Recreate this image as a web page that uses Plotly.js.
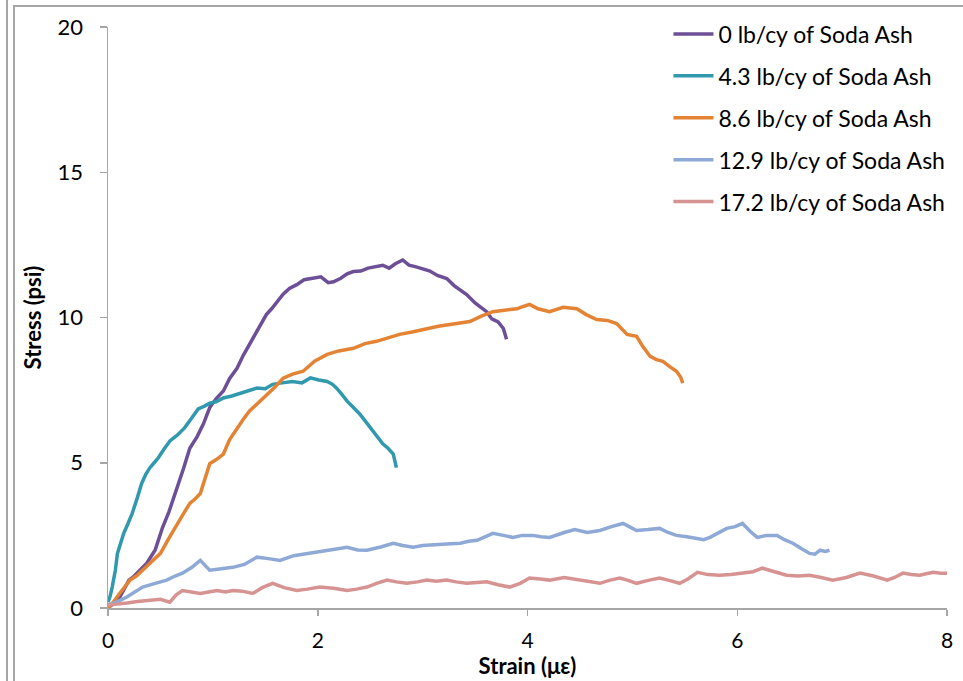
<!DOCTYPE html>
<html>
<head>
<meta charset="utf-8">
<script src="https://cdn.plot.ly/plotly-3.0.1.min.js"></script>
<style>
  html, body { margin: 0; padding: 0; background: #fff; }
  #wrap { position: relative; width: 963px; height: 681px; overflow: hidden; }
  #chart { position: absolute; left: 0; top: 0; width: 963px; height: 681px; }
  .b { position: absolute; background: #a6a6a6; }
</style>
</head>
<body>
<div id="wrap">
  <div id="chart"></div>
  <div class="b" style="left:6px; top:0; width:2px; height:681px;"></div>
  <div class="b" style="left:13px; top:5px; width:2px; height:676px;"></div>
  <div class="b" style="left:13px; top:5px; width:950px; height:2px;"></div>
</div>
<script>
// ---- data ----
const seriesNames = ["0 lb/cy of Soda Ash", "4.3 lb/cy of Soda Ash", "8.6 lb/cy of Soda Ash", "12.9 lb/cy of Soda Ash", "17.2 lb/cy of Soda Ash"];

const strain0 = [0,0.05,0.1,0.15,0.2,0.25,0.3,0.37,0.45,0.52,0.58,0.66,0.72,0.78,0.85,0.91,0.97,1.03,1.1,1.16,1.23,1.29,1.35,1.42,1.51,1.56,1.61,1.67,1.73,1.8,1.87,1.96,2.03,2.1,2.15,2.22,2.28,2.34,2.41,2.48,2.56,2.62,2.68,2.74,2.81,2.87,2.93,3.0,3.07,3.14,3.23,3.3,3.36,3.42,3.5,3.56,3.61,3.66,3.72,3.77,3.8];
const stress0 = [0,0.15,0.3,0.62,0.96,1.1,1.3,1.54,2.0,2.77,3.3,4.14,4.8,5.5,5.9,6.34,6.9,7.2,7.47,7.9,8.25,8.7,9.08,9.5,10.1,10.3,10.55,10.8,11.0,11.13,11.3,11.34,11.4,11.2,11.23,11.35,11.5,11.58,11.6,11.7,11.75,11.8,11.7,11.85,11.98,11.8,11.75,11.68,11.6,11.45,11.34,11.1,10.95,10.79,10.5,10.35,10.2,9.95,9.85,9.62,9.25];

const strain43 = [0,0.02,0.04,0.07,0.09,0.12,0.15,0.19,0.23,0.28,0.32,0.36,0.4,0.44,0.48,0.53,0.59,0.66,0.73,0.8,0.86,0.92,0.97,1.03,1.1,1.18,1.26,1.34,1.42,1.5,1.57,1.66,1.76,1.85,1.93,2.01,2.09,2.14,2.18,2.23,2.28,2.34,2.4,2.45,2.5,2.56,2.62,2.67,2.72,2.75];
const stress43 = [0.2,0.4,0.72,1.3,1.88,2.25,2.57,2.9,3.25,3.8,4.28,4.6,4.83,5.0,5.17,5.45,5.75,5.95,6.2,6.55,6.85,6.95,7.05,7.1,7.23,7.3,7.4,7.5,7.57,7.55,7.7,7.75,7.8,7.75,7.92,7.85,7.8,7.7,7.57,7.35,7.12,6.9,6.68,6.45,6.2,5.95,5.65,5.5,5.3,4.83];

const strain86 = [0,0.05,0.1,0.15,0.21,0.27,0.33,0.4,0.5,0.58,0.66,0.72,0.78,0.83,0.88,0.93,0.97,1.03,1.1,1.16,1.23,1.29,1.35,1.43,1.51,1.59,1.67,1.76,1.86,1.97,2.09,2.2,2.34,2.45,2.56,2.67,2.78,2.9,3.04,3.15,3.26,3.35,3.45,3.56,3.67,3.78,3.9,3.96,4.02,4.1,4.21,4.34,4.47,4.56,4.66,4.76,4.85,4.95,5.04,5.1,5.17,5.23,5.29,5.36,5.42,5.46,5.48];
const stress86 = [0,0.2,0.45,0.7,0.96,1.1,1.3,1.55,1.88,2.4,2.91,3.25,3.6,3.75,3.94,4.5,4.97,5.1,5.3,5.8,6.2,6.5,6.78,7.05,7.36,7.6,7.91,8.05,8.15,8.5,8.73,8.85,8.94,9.1,9.18,9.3,9.42,9.5,9.62,9.7,9.76,9.8,9.86,10.05,10.2,10.25,10.3,10.38,10.45,10.3,10.2,10.35,10.3,10.1,9.93,9.9,9.79,9.42,9.35,9.0,8.66,8.55,8.49,8.3,8.15,7.95,7.74];

const strain129 = [0,0.08,0.18,0.25,0.33,0.45,0.56,0.64,0.71,0.8,0.88,0.93,0.97,1.08,1.19,1.3,1.42,1.53,1.64,1.77,1.9,2.01,2.12,2.2,2.28,2.38,2.47,2.6,2.72,2.81,2.91,3.0,3.1,3.23,3.36,3.44,3.52,3.6,3.67,3.77,3.86,3.95,4.05,4.13,4.21,4.35,4.45,4.57,4.69,4.8,4.91,4.97,5.04,5.15,5.26,5.34,5.42,5.52,5.62,5.68,5.74,5.82,5.9,5.98,6.05,6.12,6.19,6.28,6.38,6.45,6.53,6.61,6.69,6.74,6.79,6.84,6.88];
const stress129 = [0.1,0.2,0.38,0.55,0.72,0.85,0.96,1.1,1.2,1.4,1.64,1.45,1.3,1.35,1.4,1.5,1.75,1.7,1.64,1.8,1.88,1.95,1.99,2.05,2.09,2.0,1.99,2.1,2.23,2.15,2.09,2.15,2.16,2.2,2.23,2.3,2.33,2.45,2.57,2.5,2.43,2.5,2.5,2.45,2.43,2.6,2.7,2.6,2.67,2.8,2.91,2.8,2.67,2.7,2.74,2.6,2.5,2.45,2.4,2.35,2.43,2.6,2.74,2.8,2.91,2.65,2.43,2.5,2.5,2.35,2.23,2.05,1.88,1.85,1.99,1.95,1.99];

const strain172 = [0,0.08,0.18,0.28,0.4,0.5,0.59,0.65,0.71,0.8,0.88,0.96,1.04,1.12,1.19,1.28,1.38,1.47,1.57,1.68,1.8,1.9,2.02,2.15,2.28,2.37,2.47,2.56,2.66,2.75,2.85,2.95,3.04,3.13,3.23,3.32,3.42,3.52,3.61,3.72,3.83,3.93,4.02,4.12,4.21,4.35,4.5,4.6,4.69,4.78,4.88,4.96,5.04,5.15,5.26,5.35,5.45,5.53,5.62,5.72,5.83,5.94,6.05,6.15,6.24,6.35,6.47,6.58,6.69,6.8,6.91,7.04,7.17,7.3,7.43,7.5,7.58,7.66,7.74,7.8,7.87,7.94,8.0];
const stress172 = [0.1,0.12,0.17,0.22,0.27,0.3,0.2,0.45,0.6,0.55,0.5,0.55,0.6,0.55,0.6,0.58,0.5,0.7,0.85,0.7,0.6,0.65,0.72,0.68,0.6,0.65,0.72,0.85,0.96,0.9,0.85,0.9,0.96,0.92,0.96,0.9,0.85,0.88,0.9,0.8,0.72,0.85,1.03,1.0,0.96,1.05,0.95,0.9,0.85,0.95,1.03,0.95,0.85,0.95,1.03,0.95,0.85,1.0,1.23,1.15,1.13,1.15,1.2,1.25,1.37,1.25,1.13,1.1,1.13,1.05,0.96,1.05,1.2,1.1,0.96,1.05,1.2,1.15,1.13,1.18,1.23,1.2,1.2];

const xTicks = [0, 2, 4, 6, 8];
const yTicks = [0, 5, 10, 15, 20];

// ---- styling ----
const colors = ["#6d4f97", "#3199ae", "#e48334", "#8ea9d6", "#d69392"];
const xs = [strain0, strain43, strain86, strain129, strain172];
const ys = [stress0, stress43, stress86, stress129, stress172];
const FONT = "Lato, 'Open Sans', 'Liberation Sans', sans-serif";

const traces = seriesNames.map((n, i) => ({
  type: "scatter",
  mode: "lines",
  name: n,
  x: xs[i],
  y: ys[i],
  legendgroup: "g" + i,
  line: { color: colors[i], width: 3.5 }
}));

const layout = {
  width: 963,
  height: 681,
  margin: { l: 108, r: 16, t: 24, b: 73 },
  paper_bgcolor: "#ffffff",
  plot_bgcolor: "#ffffff",
  font: { family: FONT, size: 21, color: "#000" },
  showlegend: true,
  legend: {
    x: 0.668, xanchor: "left", y: 1.025, yanchor: "top",
    bgcolor: "rgba(0,0,0,0)",
    font: { family: FONT, size: 23, color: "#000" },
    tracegroupgap: 9,
    itemwidth: 40
  },
  xaxis: {
    range: [0, 8],
    tickvals: xTicks,
    ticktext: xTicks.map(String),
    showgrid: false,
    zeroline: false,
    showline: true,
    linecolor: "#a6a6a6",
    linewidth: 1.5,
    ticks: "outside",
    ticklen: 6,
    tickcolor: "#a6a6a6",
    tickwidth: 1.5,
    ticklabelstandoff: 7,
    tickfont: { family: FONT, size: 21, color: "#000" },
    title: { text: "<b>Strain (με)</b>", font: { family: FONT, size: 22, color: "#000" }, standoff: 3 }
  },
  yaxis: {
    range: [0, 20],
    tickvals: yTicks,
    ticktext: yTicks.map(String),
    showgrid: false,
    zeroline: false,
    showline: true,
    linecolor: "#a6a6a6",
    linewidth: 1.5,
    ticks: "outside",
    ticklen: 7,
    tickcolor: "#a6a6a6",
    tickwidth: 1.5,
    ticklabelstandoff: 12,
    tickfont: { family: FONT, size: 22, color: "#000" },
    title: { text: "<b>Stress (psi)</b>", font: { family: FONT, size: 22, color: "#000" }, standoff: 10 }
  }
};

Plotly.newPlot("chart", traces, layout, { staticPlot: true, displayModeBar: false });
</script>
</body>
</html>
